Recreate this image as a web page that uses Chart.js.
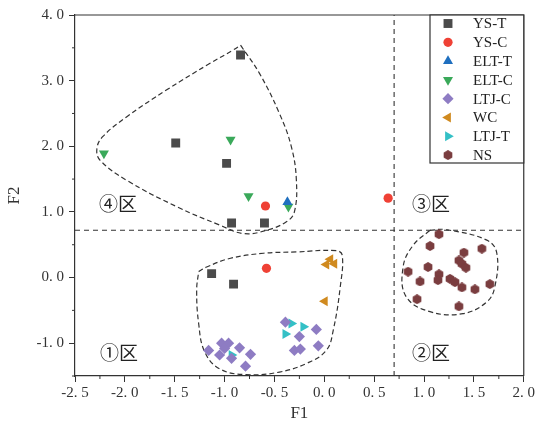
<!DOCTYPE html>
<html>
<head>
<meta charset="utf-8">
<script src="https://cdn.jsdelivr.net/npm/chart.js@4.4.0/dist/chart.umd.min.js"></script>
<style>
html, body { margin: 0; padding: 0; background: #fff; }
#wrap { width: 537px; height: 428px; }
</style>
</head>
<body>
<div id="wrap"><canvas id="chartF"></canvas></div>
<script>
// values (F1, F2)
const seriesNames = ['YS-T', 'YS-C', 'ELT-T', 'ELT-C', 'LTJ-C', 'WC', 'LTJ-T', 'NS'];
const ysT = [[-0.84, 3.39], [-1.49, 2.05], [-0.98, 1.74], [-0.93, 0.83], [-0.60, 0.83], [-1.13, 0.06], [-0.91, -0.10]];
const ysC = [[-0.59, 1.09], [-0.58, 0.14], [0.64, 1.21]];
const eltT = [[-0.37, 1.15]];
const eltC = [[-2.21, 1.89], [-0.94, 2.10], [-0.76, 1.24], [-0.36, 1.08]];
const ltjC = [[-1.16, -1.11], [-1.05, -1.18], [-1.03, -1.00], [-0.96, -1.00], [-1.00, -1.08], [-0.93, -1.23],
    [-0.85, -1.07], [-0.74, -1.17], [-0.79, -1.35], [-0.39, -0.68], [-0.25, -0.90], [-0.08, -0.79],
    [-0.06, -1.04], [-0.30, -1.11], [-0.24, -1.09]];
const wc = [[0.06, 0.28], [0.02, 0.20], [0.10, 0.21], [0.005, -0.36]];
const ltjT = [[-0.33, -0.70], [-0.21, -0.75], [-0.39, -0.86], [-0.93, -1.18]];
const ns = [[1.15, 0.66], [1.06, 0.48], [0.84, 0.09], [0.96, -0.06], [0.93, -0.33], [1.04, 0.16],
    [1.15, 0.05], [1.14, -0.04], [1.26, -0.02], [1.31, -0.07], [1.38, -0.15], [1.35, -0.44],
    [1.51, -0.18], [1.66, -0.10], [1.58, 0.44], [1.40, 0.38], [1.35, 0.26], [1.38, 0.21], [1.42, 0.15]];

// dashed outlines of the groups
const hull1 = [[-1.26, 0.09], [-1.18, 0.16], [-0.95, 0.29], [-0.61, 0.37], [-0.28, 0.39], [0.12, 0.41], [0.18, 0.34],
    [0.16, -0.14], [0.09, -0.80], [0.02, -1.11], [-0.18, -1.31], [-0.45, -1.44], [-0.78, -1.48], [-1.05, -1.39],
    [-1.20, -1.13], [-1.26, -0.70], [-1.28, -0.19]];
const hull3 = [[1.06, 0.72], [1.22, 0.73], [1.63, 0.57], [1.73, 0.37], [1.71, -0.14], [1.63, -0.37], [1.39, -0.55],
    [1.06, -0.52], [0.82, -0.29], [0.79, 0.16], [0.89, 0.49]];
const hull4 = [[-0.84, 3.54], [-0.65, 3.11], [-0.45, 2.50], [-0.33, 1.99], [-0.28, 1.48], [-0.30, 1.00], [-0.38, 0.85],
    [-0.58, 0.72], [-0.81, 0.67], [-1.05, 0.80], [-1.48, 1.08], [-1.98, 1.48], [-2.25, 1.79], [-2.28, 1.97],
    [-2.22, 2.15], [-1.98, 2.45], [-1.58, 2.86], [-1.15, 3.26], [-0.91, 3.47]];

const splitX = 0.70;
const splitY = 0.72;

const regionNames = ['①区', '②区', '③区', '④区'];
const regionX = [-2.06, 1.07, 1.07, -2.07];
const regionY = [-1.15, -1.15, 1.12, 1.12];

const xTicks = [-2.5, -2.0, -1.5, -1.0, -0.5, 0.0, 0.5, 1.0, 1.5, 2.0];
const yTicks = [-1.0, 0.0, 1.0, 2.0, 3.0, 4.0];
const xMinor = [-2.25, -1.75, -1.25, -0.75, -0.25, 0.25, 0.75, 1.25, 1.75];
const yMinor = [-1.5, -0.5, 0.5, 1.5, 2.5, 3.5];

const colors = ['#4b4b4b', '#ef4135', '#1f6fbf', '#3aa95a', '#8e7cc3', '#d08a1f', '#34c0c6', '#7a3d3f'];

// hexagon marker for NS
function hexagon(color, size) {
    let c = document.createElement('canvas');
    c.width = size; c.height = size;
    let g = c.getContext('2d');
    let r = size / 2;
    g.fillStyle = color;
    g.beginPath();
    for (let i = 0; i < 6; i++) {
        let a = Math.PI / 6 + i * Math.PI / 3;
        let px = r + r * Math.cos(a), py = r + r * Math.sin(a);
        if (i === 0) g.moveTo(px, py); else g.lineTo(px, py);
    }
    g.closePath();
    g.fill();
    return c;
}

function toPts(arr) {
    return arr.map(p => ({ x: p[0], y: p[1] }));
}

function closed(arr) {
    return toPts(arr.concat([arr[0]]));
}

const markers = [
    { data: ysT, style: 'rect', radius: 6.3, rot: 0 },
    { data: ysC, style: 'circle', radius: 4.6, rot: 0 },
    { data: eltT, style: 'triangle', radius: 5.8, rot: 0 },
    { data: eltC, style: 'triangle', radius: 5.8, rot: 180 },
    { data: ltjC, style: 'rectRot', radius: 5.6, rot: 0 },
    { data: wc, style: 'triangle', radius: 5.8, rot: 270 },
    { data: ltjT, style: 'triangle', radius: 5.8, rot: 90 },
    { data: ns, style: hexagon(colors[7], 10), radius: 5, rot: 0 }
];

let datasets = markers.map((m, i) => ({
    label: seriesNames[i],
    data: toPts(m.data),
    pointStyle: m.style,
    pointRadius: m.radius,
    pointRotation: m.rot,
    backgroundColor: colors[i],
    borderColor: colors[i],
    borderWidth: 0,
    order: 1
}));

[hull1, hull3, hull4].forEach(h => {
    datasets.push({
        label: '',
        data: closed(h),
        showLine: true,
        tension: 0.4,
        pointRadius: 0,
        borderColor: '#333',
        borderWidth: 1.2,
        borderDash: [5, 3],
        order: 10
    });
});

datasets.push({
    label: '',
    data: [{ x: splitX, y: -1.5 }, { x: splitX, y: 4.0 }],
    showLine: true, pointRadius: 0, borderColor: '#333', borderWidth: 1.1, borderDash: [5, 4], order: 10
});
datasets.push({
    label: '',
    data: [{ x: -2.5, y: splitY }, { x: 2.0, y: splitY }],
    showLine: true, pointRadius: 0, borderColor: '#333', borderWidth: 1.1, borderDash: [5, 4], order: 10
});

const serif = '"Liberation Serif", "DejaVu Serif", serif';

function tickText(v) {
    return v.toFixed(1).replace('.', '. ');
}

const extras = {
    id: 'extras',
    afterDraw(chart) {
        let ctx = chart.ctx;
        let a = chart.chartArea;
        let xs = chart.scales.x, ys = chart.scales.y;
        ctx.save();
        // frame top + right
        ctx.strokeStyle = '#333';
        ctx.lineWidth = 1.2;
        ctx.beginPath();
        ctx.moveTo(a.left, a.top);
        ctx.lineTo(a.right, a.top);
        ctx.lineTo(a.right, a.bottom);
        ctx.stroke();
        // minor ticks
        ctx.lineWidth = 1;
        ctx.beginPath();
        xMinor.forEach(v => {
            let px = xs.getPixelForValue(v);
            ctx.moveTo(px, a.bottom); ctx.lineTo(px, a.bottom + 3);
        });
        yMinor.forEach(v => {
            let py = ys.getPixelForValue(v);
            ctx.moveTo(a.left, py); ctx.lineTo(a.left - 3, py);
        });
        ctx.stroke();

        // region labels
        ctx.fillStyle = '#222';
        ctx.font = '19px "Noto Sans CJK SC"';
        ctx.textAlign = 'center';
        ctx.textBaseline = 'middle';
        regionNames.forEach((t, i) => {
            ctx.fillText(t, xs.getPixelForValue(regionX[i]), ys.getPixelForValue(regionY[i]));
        });

        // legend box
        let lx = 430, ly = a.top, lw = a.right - 430, lh = 148;
        ctx.fillStyle = '#fff';
        ctx.fillRect(lx, ly, lw, lh);
        ctx.strokeStyle = '#333';
        ctx.lineWidth = 1.2;
        ctx.strokeRect(lx, ly, lw, lh);
        ctx.font = '15px ' + serif;
        ctx.textAlign = 'left';
        markers.forEach((m, i) => {
            let cy = ly + 8.5 + i * 18.8;
            ctx.fillStyle = colors[i];
            Chart.helpers.drawPoint(ctx, {
                pointStyle: m.style, radius: m.radius, rotation: m.rot, borderWidth: 0
            }, 448, cy);
            ctx.fillStyle = '#222';
            ctx.fillText(seriesNames[i], 473, cy + 1);
        });
        ctx.restore();
    }
};

new Chart(document.getElementById('chartF'), {
    type: 'scatter',
    data: { datasets: datasets },
    plugins: [extras],
    options: {
        responsive: true,
        maintainAspectRatio: false,
        animation: false,
        layout: { padding: { top: 15, right: 13, left: 0, bottom: 0 } },
        plugins: {
            legend: { display: false },
            tooltip: { enabled: false }
        },
        scales: {
            x: {
                type: 'linear',
                min: -2.5, max: 2.0,
                afterBuildTicks: s => { s.ticks = xTicks.map(v => ({ value: v })); },
                afterFit: s => { s.height = 52; },
                ticks: {
                    callback: v => tickText(v),
                    color: '#333', font: { family: serif, size: 15 }, padding: 2, maxRotation: 0
                },
                grid: { drawOnChartArea: false, tickLength: 6, color: '#333', tickWidth: 1 },
                border: { color: '#333', width: 1.2 },
                title: { display: true, text: 'F1', color: '#333', font: { family: serif, size: 17 }, padding: { top: 0 } }
            },
            y: {
                type: 'linear',
                min: -1.5, max: 4.0,
                afterBuildTicks: s => { s.ticks = yTicks.map(v => ({ value: v })); },
                afterFit: s => { s.width = 75; },
                ticks: {
                    callback: v => tickText(v),
                    color: '#333', font: { family: serif, size: 15 }, padding: 5
                },
                grid: { drawOnChartArea: false, tickLength: 6, color: '#333', tickWidth: 1 },
                border: { color: '#333', width: 1.2 },
                title: { display: true, text: 'F2', color: '#333', font: { family: serif, size: 17 }, padding: { bottom: 0 } }
            }
        }
    }
});
</script>
</body>
</html>
